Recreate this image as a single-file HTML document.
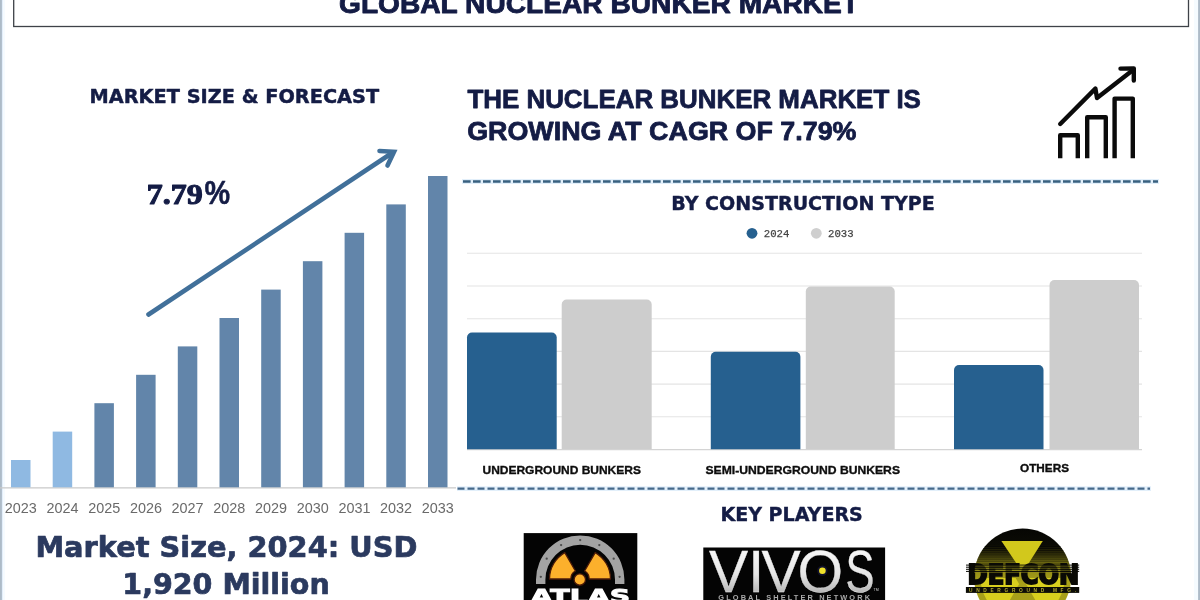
<!DOCTYPE html>
<html lang="en">
<head>
<meta charset="utf-8">
<title>Global Nuclear Bunker Market</title>
<style>
  html, body { margin:0; padding:0; background:#ffffff; }
  body { width:1200px; height:600px; overflow:hidden; position:relative; }
  svg { display:block; position:absolute; left:0; top:0; }
  text { white-space:pre; }
</style>
</head>
<body>
<svg width="1200" height="600" viewBox="0 0 1200 600">
  <defs>
    <linearGradient id="edgeL" x1="0" x2="1" y1="0" y2="0">
      <stop offset="0" stop-color="#9fb9d0"/><stop offset="0.35" stop-color="#c9dcec"/><stop offset="1" stop-color="#ffffff"/>
    </linearGradient>
    <linearGradient id="edgeR" x1="0" x2="1" y1="0" y2="0">
      <stop offset="0" stop-color="#ffffff"/><stop offset="0.5" stop-color="#e3f0fa"/><stop offset="0.6" stop-color="#b5cde1"/><stop offset="1" stop-color="#a3bdd4"/>
    </linearGradient>
    <linearGradient id="defg" x1="0" x2="0" y1="0" y2="1">
      <stop offset="0" stop-color="#060603"/><stop offset="0.17" stop-color="#0b0b05"/><stop offset="0.4" stop-color="#8d8716"/><stop offset="0.55" stop-color="#a8a11a"/><stop offset="1" stop-color="#a39c1a"/>
    </linearGradient>
    <linearGradient id="silver" x1="0" x2="0" y1="0" y2="1">
      <stop offset="0" stop-color="#ffffff"/><stop offset="0.55" stop-color="#e6e6e6"/><stop offset="1" stop-color="#9a9a9a"/>
    </linearGradient>
    <clipPath id="defclip"><circle cx="1022.6" cy="577.2" r="48.6"/></clipPath>
  </defs>

  <!-- page edges -->
  <rect x="0" y="0" width="5" height="600" fill="#f6fbff"/>
  <rect x="0" y="0" width="3" height="600" fill="#e3eefa"/>
  <rect x="0" y="0" width="1.9" height="600" fill="#adbbc8"/>
  <rect x="1194" y="0" width="6" height="600" fill="#f5fbff"/>
  <rect x="1198.1" y="0" width="1.9" height="600" fill="#adbbc8"/>

  <!-- title box -->
  <rect x="13.7" y="-10" width="1174.8" height="36.5" fill="#ffffff" stroke="#3e4248" stroke-width="1.3"/>
  <text x="339" y="12.5" textLength="520" lengthAdjust="spacingAndGlyphs" font-family='"Liberation Sans", sans-serif' font-weight="bold" font-size="28.2" fill="#141c45" stroke="#141c45" stroke-width="0.9" stroke-linejoin="round">GLOBAL NUCLEAR BUNKER MARKET</text>

  <!-- left panel -->
  <text x="89.6" y="103" textLength="289.5" lengthAdjust="spacingAndGlyphs" font-family='"DejaVu Sans", "Liberation Sans", sans-serif' font-weight="bold" font-size="19.5" fill="#141c45" stroke="#141c45" stroke-width="0.45" stroke-linejoin="round">MARKET SIZE &amp; FORECAST</text>
  <text font-weight="bold" fill="#141c45" stroke="#141c45" stroke-width="1.1" stroke-linejoin="round"><tspan font-family='"Liberation Serif", "DejaVu Serif", serif' x="146.8" y="204.4" font-size="30.3" textLength="56" lengthAdjust="spacingAndGlyphs">7.79</tspan><tspan font-family='"Liberation Sans", sans-serif' x="204.6" y="203.8" font-size="33" textLength="25.6" lengthAdjust="spacingAndGlyphs" stroke-width="0.5">%</tspan></text>
  <g stroke="#41709a" stroke-width="4.6" fill="none" stroke-linecap="round" stroke-linejoin="miter">
    <path d="M148.5 314.5 L392 153"/>
    <path d="M379.5 151 L394 151.8 L387.5 165.5"/>
  </g>
  <line x1="0" y1="487.8" x2="456" y2="487.8" stroke="#c9c9c9" stroke-width="1.2"/>
<rect x="11.0" y="460.0" width="19.5" height="27.3" fill="#8fb9e2"/>
<text x="20.8" y="513.2" text-anchor="middle" font-family='"Liberation Sans", sans-serif' font-size="14.4" fill="#6a6a6a">2023</text>
<rect x="52.7" y="431.6" width="19.5" height="55.7" fill="#8fb9e2"/>
<text x="62.5" y="513.2" text-anchor="middle" font-family='"Liberation Sans", sans-serif' font-size="14.4" fill="#6a6a6a">2024</text>
<rect x="94.4" y="403.2" width="19.5" height="84.1" fill="#6285aa"/>
<text x="104.2" y="513.2" text-anchor="middle" font-family='"Liberation Sans", sans-serif' font-size="14.4" fill="#6a6a6a">2025</text>
<rect x="136.1" y="374.8" width="19.5" height="112.5" fill="#6285aa"/>
<text x="145.9" y="513.2" text-anchor="middle" font-family='"Liberation Sans", sans-serif' font-size="14.4" fill="#6a6a6a">2026</text>
<rect x="177.8" y="346.4" width="19.5" height="140.9" fill="#6285aa"/>
<text x="187.6" y="513.2" text-anchor="middle" font-family='"Liberation Sans", sans-serif' font-size="14.4" fill="#6a6a6a">2027</text>
<rect x="219.5" y="318.0" width="19.5" height="169.3" fill="#6285aa"/>
<text x="229.2" y="513.2" text-anchor="middle" font-family='"Liberation Sans", sans-serif' font-size="14.4" fill="#6a6a6a">2028</text>
<rect x="261.2" y="289.6" width="19.5" height="197.7" fill="#6285aa"/>
<text x="271.0" y="513.2" text-anchor="middle" font-family='"Liberation Sans", sans-serif' font-size="14.4" fill="#6a6a6a">2029</text>
<rect x="302.9" y="261.2" width="19.5" height="226.1" fill="#6285aa"/>
<text x="312.7" y="513.2" text-anchor="middle" font-family='"Liberation Sans", sans-serif' font-size="14.4" fill="#6a6a6a">2030</text>
<rect x="344.6" y="232.8" width="19.5" height="254.5" fill="#6285aa"/>
<text x="354.4" y="513.2" text-anchor="middle" font-family='"Liberation Sans", sans-serif' font-size="14.4" fill="#6a6a6a">2031</text>
<rect x="386.3" y="204.4" width="19.5" height="282.9" fill="#6285aa"/>
<text x="396.1" y="513.2" text-anchor="middle" font-family='"Liberation Sans", sans-serif' font-size="14.4" fill="#6a6a6a">2032</text>
<rect x="428.0" y="176.0" width="19.5" height="311.3" fill="#6285aa"/>
<text x="437.8" y="513.2" text-anchor="middle" font-family='"Liberation Sans", sans-serif' font-size="14.4" fill="#6a6a6a">2033</text>
  <text x="35.4" y="556.5" textLength="382" lengthAdjust="spacingAndGlyphs" font-family='"DejaVu Sans", "Liberation Sans", sans-serif' font-weight="bold" font-size="29" fill="#2b3a5f" stroke="#2b3a5f" stroke-width="0.7" stroke-linejoin="round">Market Size, 2024: USD</text>
  <text x="122.3" y="594.4" textLength="207.4" lengthAdjust="spacingAndGlyphs" font-family='"DejaVu Sans", "Liberation Sans", sans-serif' font-weight="bold" font-size="29" fill="#2b3a5f" stroke="#2b3a5f" stroke-width="0.7" stroke-linejoin="round">1,920 Million</text>

  <!-- right headline -->
  <text x="467.4" y="108.2" textLength="453.5" lengthAdjust="spacingAndGlyphs" font-family='"Liberation Sans", sans-serif' font-weight="bold" font-size="26.1" fill="#141c45" stroke="#141c45" stroke-width="0.8" stroke-linejoin="round">THE NUCLEAR BUNKER MARKET IS</text>
  <text x="467.2" y="139.9" textLength="389.3" lengthAdjust="spacingAndGlyphs" font-family='"Liberation Sans", sans-serif' font-weight="bold" font-size="26.1" fill="#141c45" stroke="#141c45" stroke-width="0.8" stroke-linejoin="round">GROWING AT CAGR OF 7.79%</text>

  <!-- growth icon -->
  <g fill="none" stroke="#0b0b0b" stroke-width="4.4" stroke-linejoin="round" stroke-linecap="butt">
    <path d="M1060.2 158.2 V135.3 H1077.8 V158.2"/>
    <path d="M1087.2 158.2 V117.2 H1105.8 V158.2"/>
    <path d="M1114.6 158.2 V98.6 H1132.8 V158.2"/>
    <path stroke-linecap="round" d="M1060.2 124 L1095.4 88.6 L1097 98 L1133 70"/>
    <path stroke-linecap="round" d="M1120.5 68.6 L1133.8 68.4 L1133.8 80.5"/>
  </g>

  <!-- dashed separators -->
  <line x1="462" y1="181.5" x2="1159" y2="181.5" stroke="#d6e9f8" stroke-width="5" opacity="0.7"/>
  <line x1="463" y1="181.5" x2="1158" y2="181.5" stroke="#38607f" stroke-width="2.6" stroke-dasharray="7.6 2.4"/>
  <line x1="457" y1="488.6" x2="1151" y2="488.6" stroke="#d6e9f8" stroke-width="4.6" opacity="0.7"/>
  <line x1="457.5" y1="488.6" x2="1150" y2="488.6" stroke="#46698a" stroke-width="2.2" stroke-dasharray="7 3"/>

  <!-- construction type chart -->
  <text x="671.2" y="210.4" textLength="263.6" lengthAdjust="spacingAndGlyphs" font-family='"DejaVu Sans", "Liberation Sans", sans-serif' font-weight="bold" font-size="18.6" fill="#141c45" stroke="#141c45" stroke-width="0.4" stroke-linejoin="round">BY CONSTRUCTION TYPE</text>
  <circle cx="752" cy="233.3" r="5.4" fill="#26608f"/>
  <text x="763.8" y="237.4" textLength="25.6" lengthAdjust="spacingAndGlyphs" font-family='"Liberation Mono", "DejaVu Sans Mono", monospace' font-size="10.8" fill="#444444" stroke="#444444" stroke-width="0.25" stroke-linejoin="round">2024</text>
  <circle cx="816.3" cy="233.3" r="5.4" fill="#cfcfcf"/>
  <text x="828" y="237.4" textLength="25.6" lengthAdjust="spacingAndGlyphs" font-family='"Liberation Mono", "DejaVu Sans Mono", monospace' font-size="10.8" fill="#444444" stroke="#444444" stroke-width="0.25" stroke-linejoin="round">2033</text>
  <g stroke="#e4e4e4" stroke-width="1.1">
    <line x1="467" y1="253.3" x2="1142" y2="253.3"/>
    <line x1="467" y1="286" x2="1142" y2="286"/>
    <line x1="467" y1="318.7" x2="1142" y2="318.7"/>
    <line x1="467" y1="351.4" x2="1142" y2="351.4"/>
    <line x1="467" y1="384.1" x2="1142" y2="384.1"/>
    <line x1="467" y1="416.8" x2="1142" y2="416.8"/>
    <line x1="467" y1="449.6" x2="1142" y2="449.6" stroke="#d4d4d4"/>
  </g>
  <g fill="#26608f">
    <path d="M467 449.3 V337.5 a5 5 0 0 1 5 -5 H551.7 a5 5 0 0 1 5 5 V449.3 Z"/>
    <path d="M710.8 449.3 V356.7 a5 5 0 0 1 5 -5 H795.4 a5 5 0 0 1 5 5 V449.3 Z"/>
    <path d="M954 449.3 V370 a5 5 0 0 1 5 -5 H1038.5 a5 5 0 0 1 5 5 V449.3 Z"/>
  </g>
  <g fill="#cdcdcd">
    <path d="M561.7 449.3 V304.6 a5 5 0 0 1 5 -5 H646.7 a5 5 0 0 1 5 5 V449.3 Z"/>
    <path d="M805.8 449.3 V291.5 a5 5 0 0 1 5 -5 H889.7 a5 5 0 0 1 5 5 V449.3 Z"/>
    <path d="M1049.5 449.3 V285 a5 5 0 0 1 5 -5 H1134 a5 5 0 0 1 5 5 V449.3 Z"/>
  </g>
  <g font-family='"Liberation Sans", sans-serif' font-weight="bold" font-size="11.8" fill="#0d0d0d" stroke="#0d0d0d" stroke-width="0.35">
    <text x="482.5" y="473.7" textLength="158.4" lengthAdjust="spacingAndGlyphs">UNDERGROUND BUNKERS</text>
    <text x="705.5" y="473.7" textLength="194.5" lengthAdjust="spacingAndGlyphs">SEMI-UNDERGROUND BUNKERS</text>
    <text x="1020" y="472.3" textLength="49" lengthAdjust="spacingAndGlyphs">OTHERS</text>
  </g>

  <!-- key players -->
  <text x="720.4" y="521.3" textLength="142.4" lengthAdjust="spacingAndGlyphs" font-family='"DejaVu Sans", "Liberation Sans", sans-serif' font-weight="bold" font-size="18.9" fill="#141c45" stroke="#141c45" stroke-width="0.4" stroke-linejoin="round">KEY PLAYERS</text>

  <!-- ATLAS logo -->
  <g>
    <rect x="523.7" y="533.1" width="113.6" height="70" fill="#040404"/>
    <path d="M536.0 584 V579.6 A44.2 44.2 0 0 1 624.4 579.6 V584 H615.0 V579.6 A34.8 34.8 0 0 0 545.4 579.6 V584 Z" fill="#a3a3a3"/>
    <g fill="#4a4a4a"><circle cx="580.2" cy="540.1" r="1.15"/><circle cx="599.3" cy="545.1" r="1.15"/><circle cx="561.1" cy="545.1" r="1.15"/><circle cx="613.7" cy="558.7" r="1.15"/><circle cx="546.7" cy="558.7" r="1.15"/><circle cx="619.6" cy="576.8" r="1.15"/><circle cx="540.8" cy="576.8" r="1.15"/></g>
    <g fill="#fcb02c" stroke="#4a1a08" stroke-width="1.3" stroke-linejoin="round">
      <path d="M549.5 579.0 A30.5 30.5 0 0 1 564.8 552.6 L575.4 571.0 A9.2 9.2 0 0 0 570.8 579.0 Z"/>
      <path d="M610.5 579.0 A30.5 30.5 0 0 0 595.2 552.6 L584.6 571.0 A9.2 9.2 0 0 1 589.2 579.0 Z"/>
      <circle cx="579.8" cy="579.5" r="5.7"/>
    </g>
    <text x="530.6" y="603.4" textLength="99.5" lengthAdjust="spacingAndGlyphs" font-family='"DejaVu Sans", "Liberation Sans", sans-serif' font-weight="bold" font-size="20" fill="#ffffff" stroke="#ffffff" stroke-width="1">ATLAS</text>
  </g>

  <!-- VIVOS logo -->
  <g>
    <rect x="703.3" y="547.5" width="181.8" height="56" fill="#040404"/>
    <text y="591.7" font-family='"Liberation Sans", sans-serif' font-size="58.7" fill="url(#silver)" stroke="#e8e8e8" stroke-width="0.3"><tspan x="709 748 761.4 797.4">VIVO</tspan><tspan x="845.5" textLength="29" lengthAdjust="spacingAndGlyphs">S</tspan></text>
    <circle cx="822.4" cy="570.8" r="5.2" fill="#10102a"/>
    <circle cx="822.4" cy="570.8" r="3.3" fill="#efe02a"/>
    <text x="873.5" y="591" font-family='"Liberation Sans", sans-serif' font-size="3.6" fill="#cfcfcf">TM</text>
    <text x="718.3" y="599.7" textLength="151.7" lengthAdjust="spacing" font-family='"Liberation Sans", sans-serif' font-weight="bold" font-size="7.4" fill="#a9a9a9">GLOBAL SHELTER NETWORK</text>
  </g>

  <!-- DEFCON logo -->
  <g>
    <circle cx="1022.6" cy="577.2" r="48.6" fill="url(#defg)"/>
    <g clip-path="url(#defclip)">
      <g fill="#080804"><rect x="970" y="546.0" width="106" height="1.1" opacity="1.00"/><rect x="970" y="548.1" width="106" height="1.1" opacity="0.92"/><rect x="970" y="550.2" width="106" height="1.1" opacity="0.83"/><rect x="970" y="552.3" width="106" height="1.1" opacity="0.74"/><rect x="970" y="554.4" width="106" height="1.1" opacity="0.66"/><rect x="970" y="556.5" width="106" height="1.1" opacity="0.57"/><rect x="970" y="558.6" width="106" height="1.1" opacity="0.49"/><rect x="970" y="560.7" width="106" height="1.1" opacity="0.40"/><rect x="970" y="562.8" width="106" height="1.1" opacity="0.32"/><rect x="970" y="564.9" width="106" height="1.1" opacity="0.23"/></g>
      <path d="M1001.4 540.9 H1042.8 L1026.3 567 H1018.9 Z" fill="#d2c81c"/>
      <path d="M1001.6 614.4 A42 42 0 0 1 980.6 578.0 L1015.6 578.0 L1019.1 584.1 Z" fill="#d8cf1e"/>
      <path d="M1064.6 578.0 A42 42 0 0 1 1043.6 614.4 L1026.1 584.1 L1029.6 578.0 Z" fill="#d8cf1e"/>
    </g>
    <g fill="#0c0c06"><rect x="966" y="564.6" width="113.2" height="1"/><rect x="966" y="566.7" width="113.2" height="1"/><rect x="966" y="568.8" width="113.2" height="1"/><rect x="966" y="570.9" width="113.2" height="1"/></g>
    <text x="967.6" y="583.9" textLength="111.6" lengthAdjust="spacingAndGlyphs" font-family='"DejaVu Sans", "Liberation Sans", sans-serif' font-weight="bold" font-size="26" fill="#0a0a05" stroke="#0a0a05" stroke-width="1.9" stroke-linejoin="miter">DEFCON</text>
    <g fill="#9a9420" opacity="0.55" clip-path="url(#defclip)"><rect x="966" y="565.7" width="113.2" height="0.9"/><rect x="966" y="567.8" width="113.2" height="0.9"/><rect x="966" y="569.9" width="113.2" height="0.9"/><rect x="966" y="572.0" width="113.2" height="0.9"/></g>
    <rect x="965.9" y="587" width="113.3" height="5.9" fill="#0c0c06"/>
    <text x="969" y="591.7" textLength="107" lengthAdjust="spacing" font-family='"Liberation Sans", sans-serif' font-weight="bold" font-size="4.8" fill="#b1aa2c">UNDERGROUND MFG.</text>
  </g>
</svg>
</body>
</html>
